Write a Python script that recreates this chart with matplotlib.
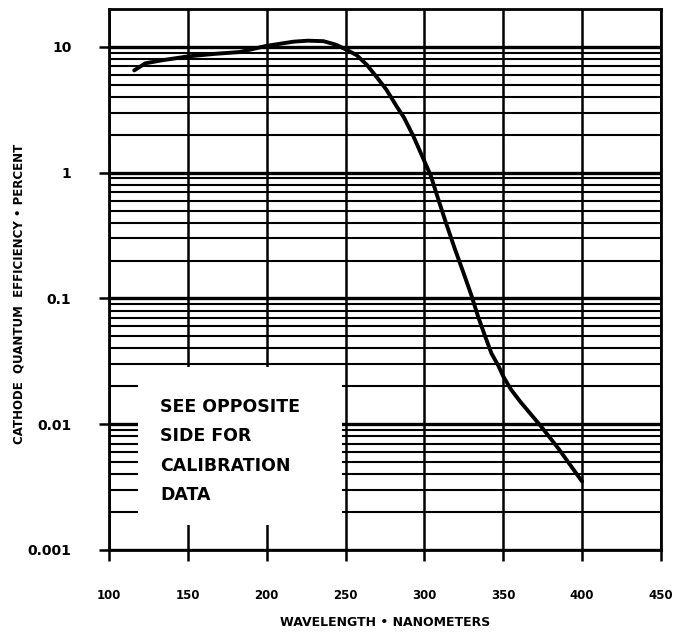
import matplotlib
matplotlib.use("Agg")
import matplotlib.pyplot as plt
from matplotlib.ticker import LogLocator, NullFormatter
from matplotlib.patches import Rectangle

# ---- data ----
wavelength = [116, 123, 133, 150, 167, 183, 200, 217, 226, 236, 244, 250.5, 257,
              263.5, 270, 276, 282.5, 287, 293, 298.5, 304, 308, 313.5, 319, 325,
              330, 334, 338.5, 342.5, 347, 350, 355, 361, 374, 385, 400]
efficiency = [6.5, 7.4, 7.8, 8.4, 8.8, 9.1, 10.2, 11.0, 11.2, 11.1, 10.4, 9.5, 8.6,
              7.2, 5.7, 4.55, 3.35, 2.75, 1.95, 1.36, 0.95, 0.66, 0.405, 0.254, 0.157,
              0.104, 0.072, 0.050, 0.0366, 0.029, 0.024, 0.0188, 0.0150, 0.0096,
              0.0064, 0.0035]

x_ticks = [100, 150, 200, 250, 300, 350, 400, 450]
x_tick_labels = ["100", "150", "200", "250", "300", "350", "400", "450"]
y_ticks = [0.001, 0.01, 0.1, 1, 10]
y_tick_labels = ["0.001", "0.01", "0.1", "1", "10"]
note_lines = ["SEE OPPOSITE", "SIDE FOR", "CALIBRATION", "DATA"]
x_label = "WAVELENGTH • NANOMETERS"
y_label = "CATHODE  QUANTUM  EFFICIENCY • PERCENT"

# ---- figure ----
fig = plt.figure(figsize=(6.77, 6.35), dpi=100)
ax = fig.add_axes([0.161, 0.1339, 0.8153, 0.8519])
ax.set_yscale("log")
ax.set_xlim(100, 450)
ax.set_ylim(0.001, 20)

ax.set_xticks(x_ticks)
ax.set_xticklabels(x_tick_labels)
ax.set_yticks(y_ticks)
ax.set_yticklabels(y_tick_labels)
ax.yaxis.set_minor_locator(LogLocator(base=10, subs=range(2, 10), numticks=20))
ax.yaxis.set_minor_formatter(NullFormatter())

ax.set_axisbelow(True)
ax.grid(True, which="major", axis="y", color="black", lw=2.4)
ax.grid(True, which="minor", axis="y", color="black", lw=1.5)
ax.grid(True, which="major", axis="x", color="black", lw=1.8)

# white note box blanking part of the grid
ax.add_patch(Rectangle((118.5, 0.00158), 247.5 - 118.5, 0.0285 - 0.00158,
                       facecolor="white", edgecolor="none", zorder=1))

ax.plot(wavelength, efficiency, color="black", lw=2.8, zorder=3,
        solid_capstyle="round", solid_joinstyle="round")

for s in ax.spines.values():
    s.set_linewidth(2.0)

ax.tick_params(axis="y", which="major", direction="out", length=7, width=1.8,
               pad=20, labelsize=10)
ax.tick_params(axis="y", which="minor", length=0)
ax.tick_params(axis="x", direction="out", length=8, width=1.8, pad=20,
               labelsize=8.5)
for lab in ax.get_xticklabels() + ax.get_yticklabels():
    lab.set_fontweight("bold")

fig.text(385 / 677, 1 - 623 / 635, x_label, ha="center", va="center",
         fontsize=9, fontweight="bold")
fig.text(19 / 677, 1 - 294 / 635, y_label, ha="center", va="center",
         rotation=90, fontsize=8.5, fontweight="bold")
fig.text(160 / 677, 1 - 451 / 635, "\n".join(note_lines), ha="left",
         va="center", fontsize=12.5, fontweight="bold", linespacing=1.8)

fig.savefig("out.png", dpi=100, facecolor="white")
